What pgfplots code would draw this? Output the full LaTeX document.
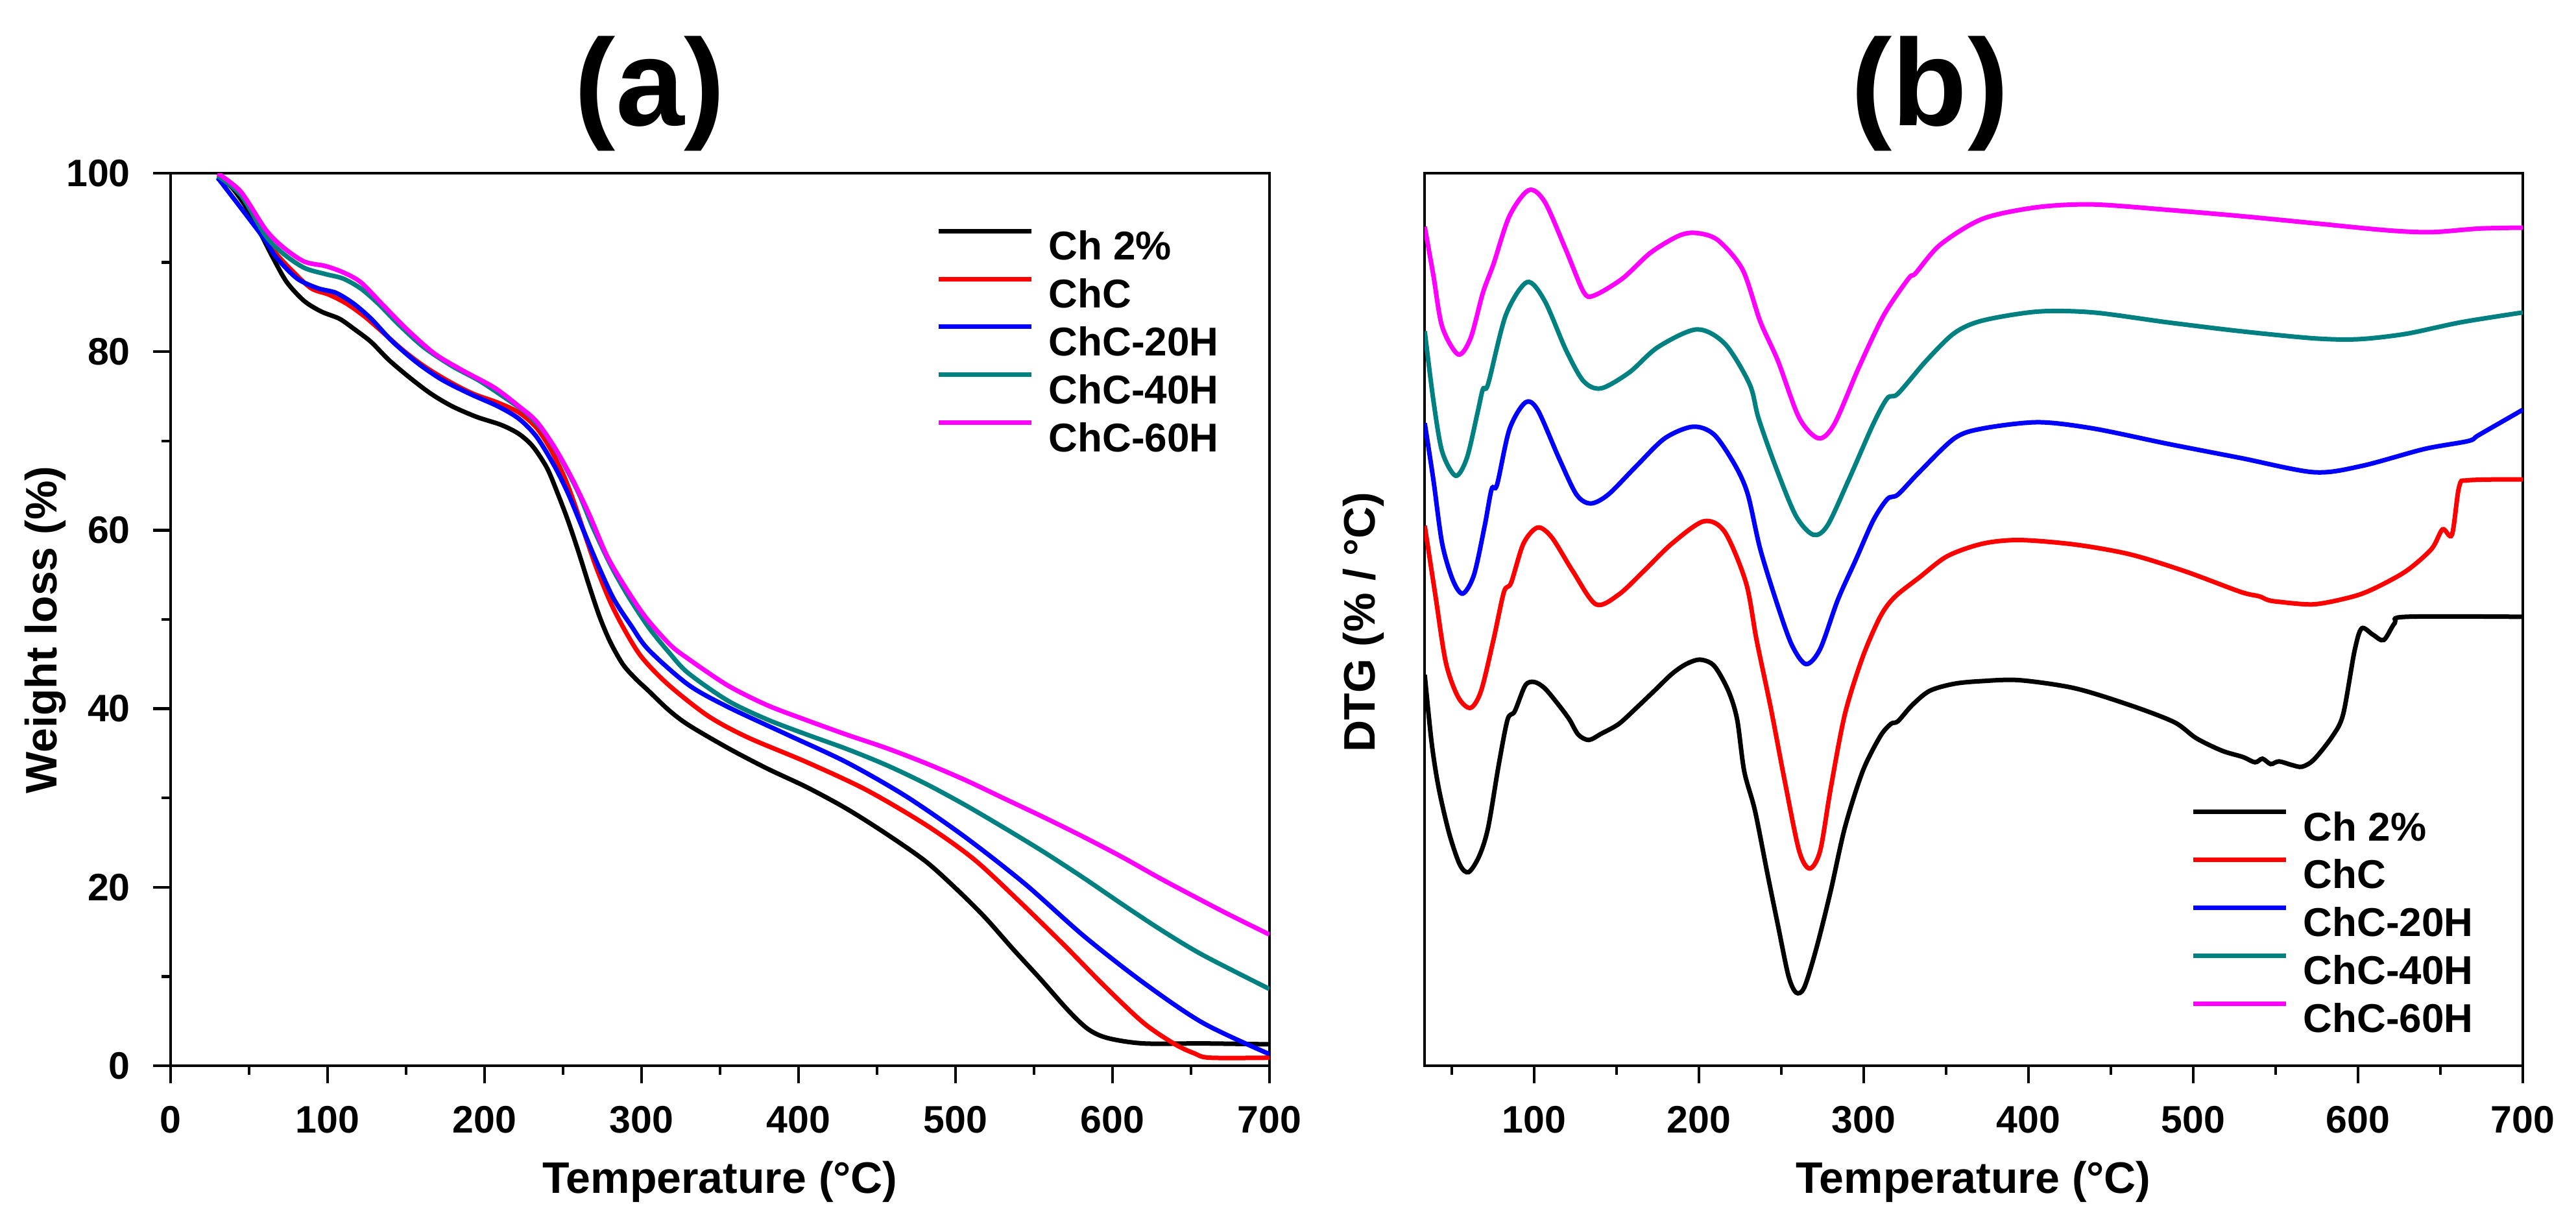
\documentclass[border=0pt]{standalone}
\usepackage{fontspec}
\setmainfont{Liberation Sans}
\usepackage{pgfplots}
\pgfplotsset{compat=1.18}
\definecolor{cteal}{RGB}{0,128,128}
\definecolor{cmag}{RGB}{255,0,255}
\definecolor{cred}{RGB}{255,0,0}
\definecolor{cblue}{RGB}{0,0,255}
\begin{document}
\begin{tikzpicture}
\useasboundingbox (0,0) rectangle (397.1pt,188.6pt);
\pgfplotsset{
  common/.style={
    scale only axis, width=169.4pt, height=137.6pt,
    axis line style={line width=0.45pt},
    every tick/.style={line width=0.45pt, black},
    tick align=outside, tick pos=left,
    major tick length=2.7pt, minor tick length=1.4pt,
    ticklabel style={font=\fontsize{5.9}{6}\selectfont\bfseries},
    /pgf/number format/assume math mode=true,
    legend cell align=left,
    legend style={draw=none, fill=none, inner sep=0pt, outer sep=0pt,
      font=\fontsize{6.2}{7}\selectfont\bfseries,
      nodes={inner sep=0pt, outer sep=0pt, text height=4.44pt, text depth=0pt},
      row sep=2.6pt, column sep=2.3pt, anchor=north west},
    legend image code/.code={\draw[#1, line width=0.7pt] (0pt,2.22pt) -- (14.3pt,2.22pt);},
    every axis plot/.append style={line width=0.7pt, smooth, tension=0.5},
  }
}
\begin{axis}[common, at={(26.3pt,24.3pt)}, anchor=south west,
  xmin=0, xmax=700, ymin=0, ymax=100,
  xtick={0,100,...,700}, minor xtick={50,150,...,650},
  ytick={0,20,...,100}, minor ytick={10,30,...,90},
  legend style={at={(0.697,0.9378)}}]
\addplot[black] coordinates {(30,99.4)(38,98.6)(47,96.5)(56,93.7)(65,90.6)(74,87.8)(85,85.7)(96,84.5)(107.5,83.7)(116.5,82.6)(127.7,81.1)(138.9,79.1)(152.3,77.1)(165.8,75.3)(179.2,73.9)(194.9,72.7)(210.6,71.8)(221.8,70.8)(230.7,69.4)(239.7,67.0)(246.4,64.2)(253.1,61.1)(259.8,57.6)(266.6,53.8)(273.3,50.3)(280,47.5)(288,45.0)(296,43.4)(304.5,42.0)(317,39.9)(329.7,38.2)(355,35.6)(380,33.3)(405.4,31.2)(430.6,28.8)(455.8,26.0)(481,22.9)(501.2,19.7)(518.9,16.6)(536.5,13.1)(554.2,9.7)(571.8,6.2)(584.5,4.1)(597,3.1)(619.8,2.5)(657.6,2.5)(700,2.4)};
\addplot[cred] coordinates {(30,99.8)(44.8,97.9)(58.2,93.4)(67.2,91.0)(78.4,88.9)(89.6,87.1)(100.8,86.4)(112,85.4)(123.2,84.0)(134.4,82.3)(147.8,80.2)(161.3,78.4)(177,76.7)(192.6,75.3)(208.3,74.3)(221.8,73.2)(233,71.5)(242,69.1)(251,65.9)(257.6,62.8)(264.3,59.3)(271,55.9)(280,52.0)(289,48.9)(300,45.8)(317,42.7)(342.3,39.2)(367.5,36.8)(405.4,34.0)(443.2,30.9)(481,27.0)(511.3,23.2)(539,18.7)(569.3,13.5)(594.5,9.0)(619.8,4.8)(639.9,2.4)(652,1.4)(662,0.9)(700,0.9)};
\addplot[cblue] coordinates {(30,99.5)(58.2,93.0)(67.2,90.6)(80.6,88.2)(94,87.1)(105.3,86.6)(116.5,85.4)(127.7,83.7)(141,81.2)(156.8,78.8)(172.5,76.9)(190.4,75.3)(208.3,73.9)(221.8,72.5)(233,70.5)(244.2,67.3)(253,64.2)(262,60.4)(271,56.6)(282,52.4)(293.4,49.3)(304.5,46.6)(329.7,42.7)(355,40.2)(392.8,37.1)(430.6,34.0)(468.4,30.2)(506.3,25.6)(544.1,20.4)(582,14.5)(619.8,9.3)(657.6,4.8)(700,1.3)};
\addplot[cteal] coordinates {(30,99.7)(45,97.5)(60.5,93.0)(71.7,91.0)(85.1,89.4)(98.6,88.7)(109.8,88.2)(121,87.1)(132.2,85.4)(145.6,83.0)(161.3,80.5)(179.2,78.4)(197.1,76.7)(215,74.6)(226.2,73.2)(237.4,71.1)(248.6,68.0)(259.8,64.2)(268.8,60.4)(280,56.2)(291.2,52.7)(304.6,49.1)(318,46.2)(329.7,44.0)(355,40.9)(380,38.8)(405.4,37.1)(430.6,35.5)(455.8,33.7)(481,31.6)(506.3,29.2)(531.5,26.6)(556.7,23.9)(582,21.0)(607,18.0)(632,15.1)(657.6,12.4)(700,8.6)};
\addplot[cmag] coordinates {(30,100)(44.8,97.9)(60.5,93.7)(71.7,91.7)(85.1,90.1)(98.6,89.6)(109.8,88.9)(121,87.8)(134.4,85.4)(150,82.6)(168,79.8)(186,77.9)(206,76.0)(221.8,73.9)(233,72.2)(244.2,69.4)(255.4,65.9)(266.6,61.8)(277.8,57.2)(289,53.8)(302.4,50.3)(318,47.2)(329.7,45.6)(355,42.6)(380,40.4)(405.4,38.7)(430.6,37.1)(455.8,35.6)(481,33.9)(506.3,32.0)(531.5,29.9)(556.7,27.8)(582,25.6)(607,23.3)(632.4,20.8)(670.2,17.3)(700,14.7)};
\legend{Ch 2\%, ChC, ChC-20H, ChC-40H, ChC-60H}
\end{axis}

\begin{axis}[common, at={(219.6pt,24.3pt)}, anchor=south west, width=169.3pt,
  xmin=33.5, xmax=700, ymin=0, ymax=100,
  xtick={100,200,...,700}, minor xtick={50,150,...,650},
  ytick=\empty,
  legend style={at={(0.698,0.287)}}]
\addplot[black] coordinates {(33.6,43.8)(37.8,36.2)(42.1,31.1)(48.5,26.0)(55,22.5)(60.3,21.7)(66.7,23.5)(72.1,26.7)(78.5,33.7)(83.9,38.8)(88.2,39.7)(94.6,42.6)(100,43.0)(106.4,42.3)(115,40.4)(121.4,38.8)(126.8,37.1)(133.2,36.5)(140.7,37.2)(151.4,38.3)(162.1,40.1)(172.9,42.0)(183.6,43.9)(192.2,45.0)(200.7,45.5)(209.3,44.8)(217.9,42.0)(223.2,38.8)(227.5,33.0)(234,28.6)(241.5,21.6)(247.9,15.8)(254.3,10.1)(259,8.2)(264,8.8)(271.5,13.3)(280,19.6)(288.6,26.7)(299.4,33.0)(310,36.9)(316.5,38.3)(320.8,38.6)(329.4,40.4)(340,42.0)(355,42.8)(372,43.1)(394.6,43.2)(428,42.3)(461.6,40.4)(488.4,38.5)(501.8,36.7)(517.4,35.3)(530,34.6)(537.5,34.0)(542,34.4)(547,33.8)(552,34.1)(559.8,33.7)(566,33.5)(573.2,34.3)(584.4,36.9)(591,39.4)(597.8,46.4)(602.2,49.0)(609,48.3)(615.6,47.7)(622.3,49.6)(629,50.3)(700,50.3)};
\addplot[cred] coordinates {(33.6,60.5)(40,52.8)(46.4,45.2)(53.9,41.3)(61.4,40.1)(67.8,42.0)(75.3,47.7)(81.7,53.1)(86,54.1)(93.5,58.5)(102.1,60.3)(110.7,59.2)(123.5,55.4)(137.5,51.7)(151.4,52.8)(166.4,55.4)(183.6,58.5)(202.9,61.0)(215.7,59.8)(228.6,54.1)(235,47.7)(243.6,40.1)(252.2,31.8)(260.8,24.1)(267.2,22.1)(273.6,24.1)(280,31.1)(288.6,39.4)(299.4,45.8)(310,50.3)(318.7,52.5)(333.7,54.7)(350.8,57.1)(372.3,58.5)(394.6,58.9)(428,58.4)(461.6,57.3)(495,55.4)(528.6,53.1)(540,52.6)(545,52.2)(551,52.0)(573.2,51.7)(595.5,52.5)(609,53.4)(629,55.4)(644.6,57.9)(651.3,60.1)(657,59.5)(661.4,64.9)(667,65.6)(700,65.7)};
\addplot[cblue] coordinates {(33.6,72.0)(38.9,65.6)(44.2,58.5)(50.7,54.4)(56.7,52.9)(63.5,55.0)(70,60.5)(74.2,64.6)(77.5,65.1)(85,71.3)(94.6,74.3)(102.1,73.5)(115,68.1)(125.7,64.0)(134.3,63.0)(145,64.0)(162.1,67.2)(179.3,70.3)(196.4,71.6)(209.3,70.7)(222.2,67.2)(229.7,64.0)(237.2,57.9)(247.9,51.5)(256.5,47.1)(265,45.0)(273.6,46.7)(284.3,52.2)(295,56.6)(305.8,61.1)(314.4,63.5)(320.8,64.0)(333.7,66.5)(355.1,70.3)(372.3,71.4)(405.8,72.1)(439.3,71.4)(484,69.7)(528.6,68.1)(573.2,66.5)(602.2,67.2)(640.2,69.1)(667,70.0)(673.6,70.7)(700,73.5)};
\addplot[cteal] coordinates {(33.6,82.3)(38.9,74.5)(44.2,68.8)(52.4,66.1)(59.2,68.1)(65.7,73.2)(68.9,75.8)(72.1,76.4)(82.8,84.1)(95.7,87.8)(106.4,85.7)(119.3,80.2)(130,76.7)(140.7,75.9)(157.9,77.7)(175,80.5)(198.6,82.5)(215.7,80.9)(230.7,76.4)(236.1,72.6)(245.8,67.5)(258.6,61.7)(269.3,59.5)(277.9,60.5)(290.8,65.6)(305.8,71.9)(314.4,74.8)(320.8,75.3)(338,79.0)(355.1,82.1)(372.3,83.5)(405.8,84.5)(439.3,84.4)(484,83.3)(528.6,82.3)(573.2,81.5)(600,81.4)(629,82.0)(662.5,83.3)(700,84.4)};
\addplot[cmag] coordinates {(33.6,94.0)(38.9,88.5)(44.2,82.8)(53.9,79.7)(61.4,81.5)(68.9,86.6)(75.3,89.8)(85,95.2)(96.7,98.1)(106.4,96.8)(119.3,91.4)(130,86.7)(136.4,86.3)(153.6,88.2)(170.7,91.1)(187.9,93.0)(198.6,93.3)(211.5,92.5)(226.5,89.2)(237.2,83.4)(247.9,79.0)(260.8,72.6)(272.6,70.3)(282.2,71.9)(297.2,78.3)(312.2,84.1)(327.2,88.2)(331.5,88.8)(346.5,92.0)(372.3,94.9)(405.8,96.2)(439.3,96.5)(484,95.9)(528.6,95.2)(573.2,94.4)(617.8,93.6)(644.6,93.4)(673.6,93.8)(700,93.9)};
\legend{Ch 2\%, ChC, ChC-20H, ChC-40H, ChC-60H}
\end{axis}

\node[font=\fontsize{19}{20}\selectfont\bfseries, inner sep=0pt] at (100.2pt,174.2pt) {(a)};
\node[font=\fontsize{19}{20}\selectfont\bfseries, inner sep=0pt] at (297.5pt,174.2pt) {(b)};
\node[font=\fontsize{6.8}{7}\selectfont\bfseries, inner sep=0pt] at (111.0pt,6.4pt) {Temperature (°C)};
\node[font=\fontsize{6.8}{7}\selectfont\bfseries, inner sep=0pt] at (304.2pt,6.4pt) {Temperature (°C)};
\node[font=\fontsize{6.8}{7}\selectfont\bfseries, inner sep=0pt, rotate=90] at (7.0pt,91.5pt) {Weight loss (\%)};
\node[font=\fontsize{6.8}{7}\selectfont\bfseries, inner sep=0pt, rotate=90] at (210.2pt,92.7pt) {DTG (\% / °C)};
\end{tikzpicture}
\end{document}
